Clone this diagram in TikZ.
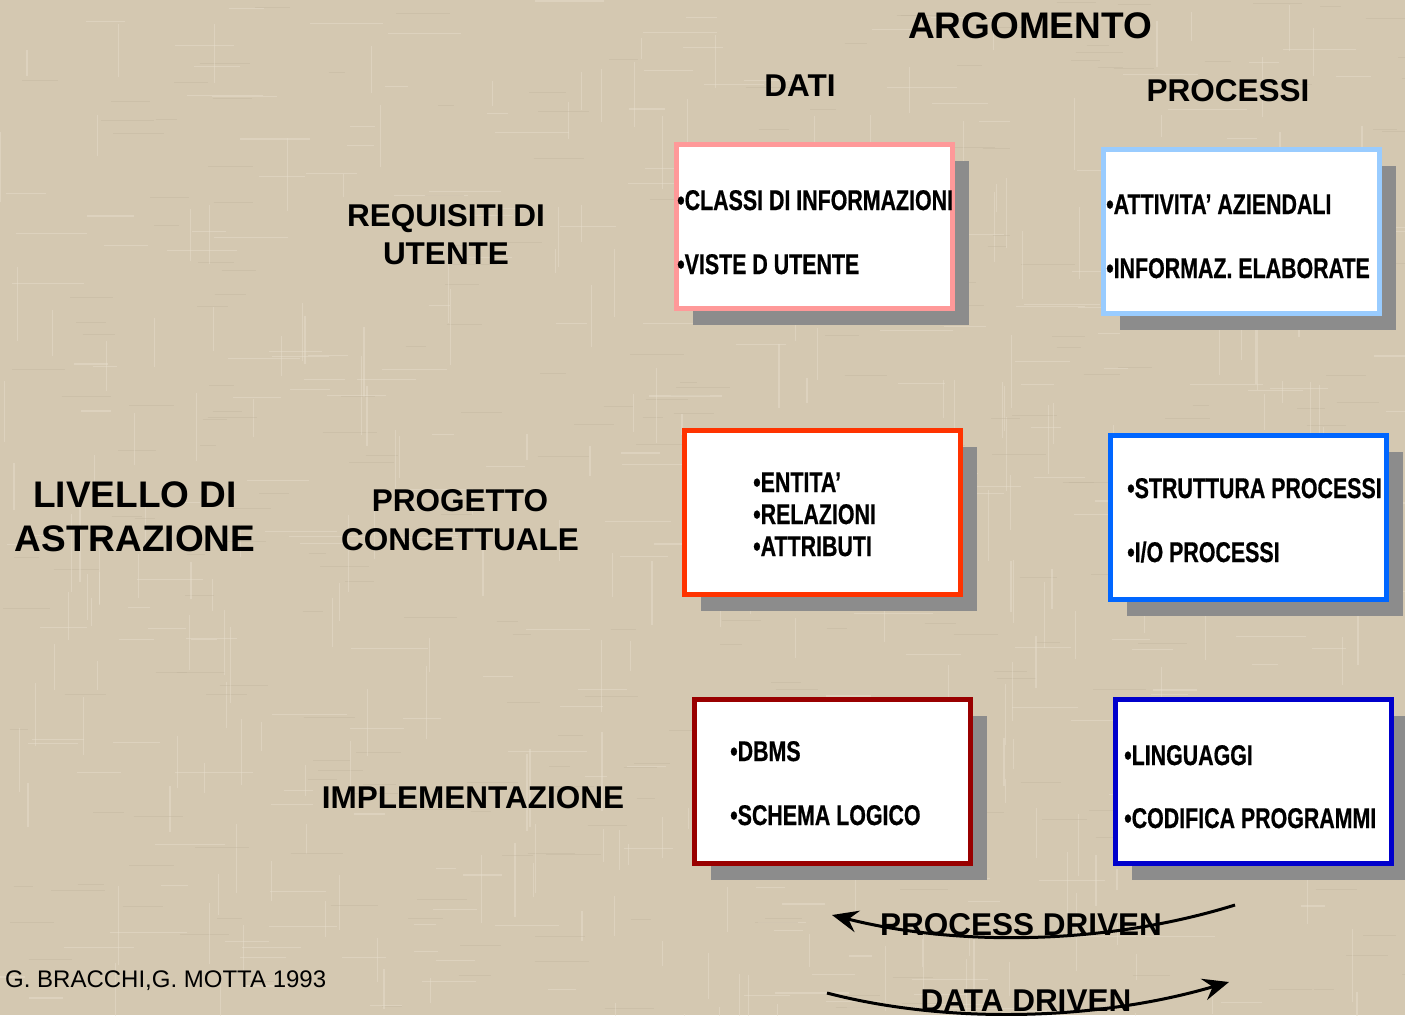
\documentclass[tikz,border=0pt]{standalone}
\usepackage{fontspec}
\setmainfont{Liberation Sans}
\newfontfamily\narrowfont[FakeStretch=0.75,FakeBold=0.6]{Liberation Sans}
\usetikzlibrary{shadows,arrows.meta}
\definecolor{bgc}{RGB}{212,200,177}
\definecolor{bglight}{RGB}{232,224,206}
\definecolor{bgdark}{RGB}{190,178,155}
\definecolor{shadowc}{RGB}{140,140,140}
\definecolor{pinkb}{RGB}{255,153,153}
\definecolor{lblueb}{RGB}{153,204,255}
\definecolor{redb}{RGB}{255,51,0}
\definecolor{blueb}{RGB}{0,102,255}
\definecolor{dredb}{RGB}{153,0,0}
\definecolor{dblueb}{RGB}{0,0,204}
\begin{document}
\begin{tikzpicture}[x=1pt,y=-1pt,
  boxnode/.style={draw=#1, line width=5pt, fill=white, minimum width=276pt, minimum height=164pt,
    inner sep=0pt, anchor=north west,
    general shadow={fill=shadowc, shadow xshift=16.5pt, shadow yshift=-16.5pt}},
  itemtext/.style={anchor=base west, inner sep=0pt, font=\narrowfont\bfseries\fontsize{28.5}{30}\selectfont},
  headbig/.style={anchor=base, inner sep=0pt, font=\bfseries\fontsize{37}{40}\selectfont},
  headmid/.style={anchor=base, inner sep=0pt, font=\bfseries\fontsize{31.5}{34}\selectfont},
  flowarrow/.style={line width=3pt, -{Stealth[length=26pt,width=22pt,inset=9pt]}}]
\useasboundingbox (0,0) rectangle (1405,1015);
\fill[bgc] (0,0) rectangle (1405,1015);
% burlap-like texture
\pgfmathsetseed{7}
\foreach \i in {1,...,260}{
  \pgfmathsetmacro{\xx}{rnd*1405}
  \pgfmathsetmacro{\yy}{rnd*1015}
  \pgfmathsetmacro{\ll}{20+rnd*60}
  \draw[bglight, opacity=0.45, line width=1.2pt] (\xx,\yy) -- ++(\ll,0);
  \pgfmathsetmacro{\xx}{rnd*1405}
  \pgfmathsetmacro{\yy}{rnd*1015}
  \pgfmathsetmacro{\ll}{20+rnd*60}
  \draw[bglight, opacity=0.45, line width=1.2pt] (\xx,\yy) -- ++(0,\ll);
  \pgfmathsetmacro{\xx}{rnd*1405}
  \pgfmathsetmacro{\yy}{rnd*1015}
  \pgfmathsetmacro{\ll}{15+rnd*40}
  \draw[bgdark, opacity=0.35, line width=1pt] (\xx,\yy) -- ++(\ll,0);
}

% boxes
\node[boxnode=pinkb]  (b1) at (674,142) {};
\node[boxnode=lblueb] (b2) at (1101,147) {};
\node[boxnode=redb]   (b3) at (682,428) {};
\node[boxnode=blueb]  (b4) at (1108,433) {};
\node[boxnode=dredb]  (b5) at (692,697) {};
\node[boxnode=dblueb] (b6) at (1113,697) {};

% box texts
\node[itemtext] (t11) at (677,210) {•CLASSI DI INFORMAZIONI};
\node[itemtext] (t12) at (677,274) {•VISTE D UTENTE};
\node[itemtext] (t21) at (1106,214) {•ATTIVITA’ AZIENDALI};
\node[itemtext] (t22) at (1106,278) {•INFORMAZ. ELABORATE};
\node[itemtext] (t31) at (753,492) {•ENTITA’};
\node[itemtext] (t32) at (753,524) {•RELAZIONI};
\node[itemtext] (t33) at (753,556) {•ATTRIBUTI};
\node[itemtext] (t41) at (1127,498) {•STRUTTURA PROCESSI};
\node[itemtext] (t42) at (1127,562) {•I/O PROCESSI};
\node[itemtext] (t51) at (730,761) {•DBMS};
\node[itemtext] (t52) at (730,825) {•SCHEMA LOGICO};
\node[itemtext] (t61) at (1124,765) {•LINGUAGGI};
\node[itemtext] (t62) at (1124,828) {•CODIFICA PROGRAMMI};

% headers
\node[headbig] (arg) at (1030,38) {ARGOMENTO};
\node[headmid] (dati) at (800,96) {DATI};
\node[headmid] (proc) at (1228,101) {PROCESSI};
\node[headmid] (req1) at (446,226) {REQUISITI DI};
\node[headmid] (req2) at (446,264) {UTENTE};
\node[headbig] (liv1) at (135,507) {LIVELLO DI};
\node[headbig] (liv2) at (135,551) {ASTRAZIONE};
\node[headmid] (prog1) at (460,511) {PROGETTO};
\node[headmid] (prog2) at (460,550) {CONCETTUALE};
\node[headmid] (impl) at (473,808) {IMPLEMENTAZIONE};
\node[anchor=base west, inner sep=0pt, font=\fontsize{24}{26}\selectfont] (cred) at (5,987) {G. BRACCHI,G. MOTTA 1993};

% flow arrows
\coordinate (pa) at (1235,905);
\coordinate (pb) at (832,915);
\coordinate (da) at (827,993);
\coordinate (db) at (1229,982);
\draw[flowarrow] (pa) .. controls (1100,947) and (950,945) .. (pb);
\draw[flowarrow] (da) .. controls (950,1025) and (1100,1020) .. (db);
\node[headmid] (pdr) at (1021,935) {PROCESS DRIVEN};
\node[headmid] (ddr) at (1026,1011) {DATA DRIVEN};
\end{tikzpicture}
\end{document}
